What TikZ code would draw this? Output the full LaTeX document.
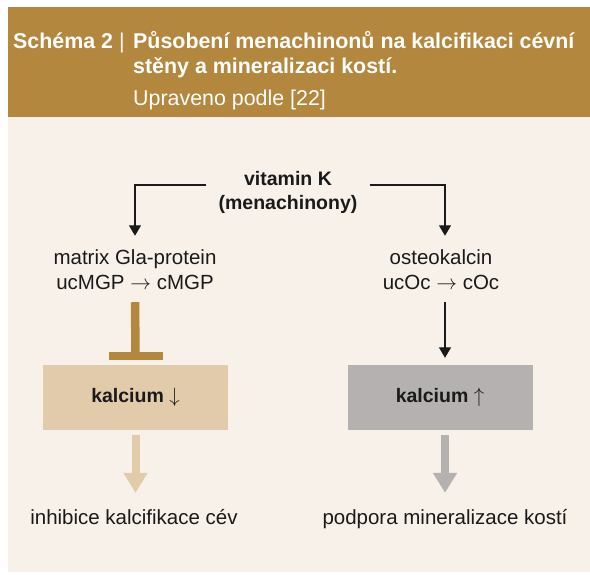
\documentclass[tikz,border=0pt]{standalone}
\usepackage{fontspec}
\setmainfont{Liberation Sans}
\usetikzlibrary{arrows.meta}
\definecolor{hdr}{HTML}{B3873D}
\definecolor{panel}{HTML}{F7F1EA}
\definecolor{lbx}{HTML}{E2CBAA}
\definecolor{rbx}{HTML}{B4B1B0}
\definecolor{ink}{HTML}{1A1A1A}
\begin{document}
\begin{tikzpicture}[x=1pt,y=-1pt,
  title/.style={anchor=base west, text=white, inner sep=0pt, font=\bfseries\fontsize{21.4}{25}\selectfont},
  txt/.style={font=\fontsize{20.5}{25}\selectfont, align=center, inner sep=0pt, text=ink},
  btxt/.style={font=\bfseries\fontsize{19.5}{24}\selectfont, align=center, inner sep=0pt, text=ink},
  endtxt/.style={font=\fontsize{20.5}{25}\selectfont, inner sep=0pt, text=ink, text height=15pt, text depth=4pt},
  conn/.style={draw=ink, line width=1.3pt, -{Triangle[width=12pt,length=10.5pt]}},
  fat/.style={line width=8pt, -{Triangle[width=23pt,length=20pt]}},
  calbox/.style={minimum width=185pt, minimum height=65pt, inner sep=0pt, text=ink, font=\bfseries\fontsize{19.5}{24}\selectfont}]
\useasboundingbox (0,0) rectangle (590,574);
\fill[white] (0,0) rectangle (590,574);
\fill[panel] (8,7) rectangle (590,572);
\fill[hdr] (8,7) rectangle (590,117);
% title
\node[title] (t1) at (13,48) {Schéma 2 {\mdseries |}};
\node[title] (t2) at (133,48) {Působení menachinonů na kalcifikaci cévní};
\node[title] (t3) at (133,73) {stěny a mineralizaci kostí.};
\node[title, font=\fontsize{21.4}{25}\selectfont] (t4) at (133,105) {Upraveno podle [22]};
% nodes
\node[btxt] (vk) at (288,192) {vitamin K\\(menachinony)};
\node[txt] (mgp) at (135,269.5) {matrix Gla-protein\\ucMGP $\rightarrow$ cMGP};
\node[txt] (ost) at (441,269.5) {osteokalcin\\ucOc $\rightarrow$ cOc};
\node[calbox, fill=lbx] (lbox) at (135.5,397.5) {kalcium\ $\downarrow$};
\node[calbox, fill=rbx] (rbox) at (440,397.5) {kalcium\ $\uparrow$};
\node[endtxt] (inh) at (134,518.5) {inhibice kalcifikace cév};
\node[endtxt] (pod) at (445,518.5) {podpora mineralizace kostí};
% connectors
\draw[conn, shorten >=13.5pt] ([xshift=-12pt,yshift=7pt]vk.west) -| (mgp.north);
\draw[conn, shorten >=13.5pt] ([xshift=12pt,yshift=7pt]vk.east) -| ([xshift=4pt]ost.north);
\draw[hdr, line width=8.5pt, shorten <=12.5pt, shorten >=12pt] (mgp.south) -- (lbox.north);
\fill[hdr] ([xshift=-27pt,yshift=5pt]lbox.north) rectangle ([xshift=27pt,yshift=12.5pt]lbox.north);
\draw[conn, shorten <=12.5pt, shorten >=7pt] ([xshift=4pt]ost.south) -- ([xshift=5pt]rbox.north);
\draw[fat, lbx, shorten <=5pt, shorten >=16pt] (lbox.south) -- (lbox.south |- inh.north);
\draw[fat, rbx, shorten <=5pt, shorten >=16pt] ([xshift=5pt]rbox.south) -- ([xshift=5pt]rbox.south |- pod.north);
\end{tikzpicture}
\end{document}
